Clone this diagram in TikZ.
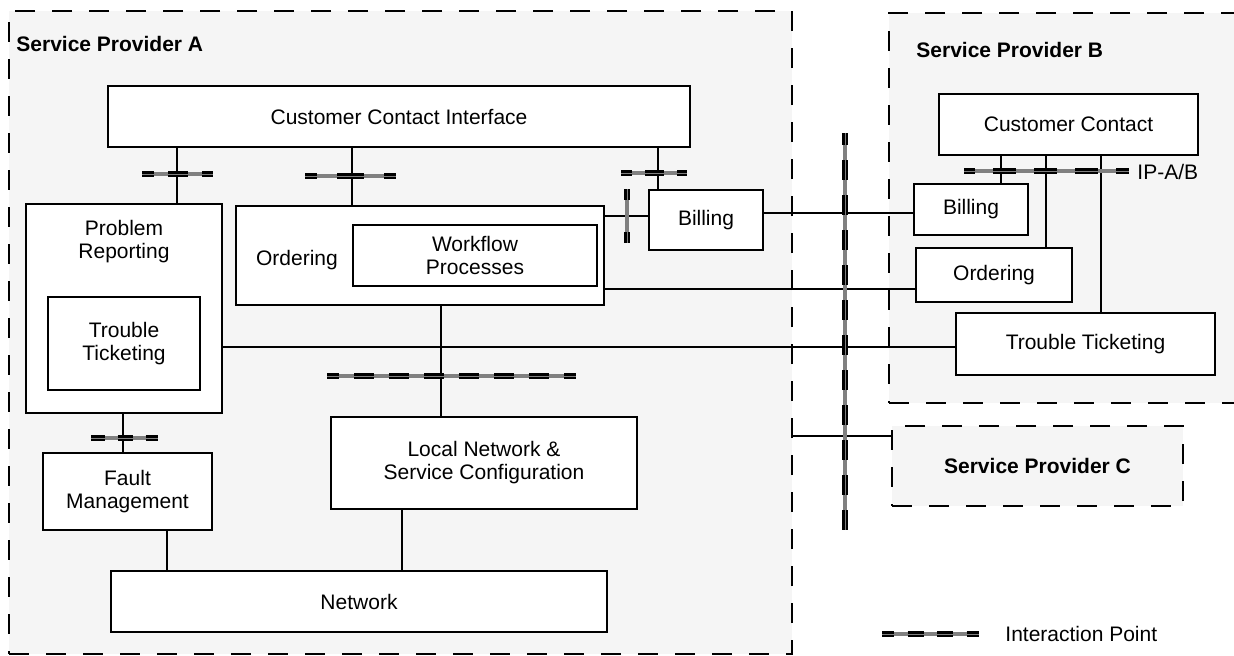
\documentclass[tikz,border=0pt]{standalone}
\usepackage{fontspec}
\setmainfont{Liberation Sans}
\definecolor{regionfill}{HTML}{F5F5F5}
\definecolor{ipgray}{HTML}{808080}

\begin{document}
\begin{tikzpicture}[
  x=0.5pt, y=-0.5pt,
  font=\fontsize{10.5pt}{11.5pt}\selectfont,
  region/.style={draw, fill=regionfill, line width=1pt, dash pattern=on 10pt off 8.5pt, inner sep=0pt, outer sep=0pt},
  box/.style={draw, fill=white, line width=0.75pt, inner sep=0pt, outer sep=0pt, align=center},
  txt/.style={inner sep=0pt, align=center},
  link/.style={line width=0.6pt},
  ip/.style={draw=ipgray, line width=1.8pt,
    postaction={draw=black, line width=3.2pt, #1},
    postaction={draw=ipgray, line width=0.5pt}},
  ip/.default={dash pattern=on 10pt off 7.5pt, dash phase=4pt},
  ptitle/.style={font=\fontsize{10.5pt}{11.5pt}\selectfont\bfseries, inner sep=0pt},
]
\useasboundingbox (0,0) rectangle (1234,655);

% --- provider regions ---
\node[region, minimum width=391.5pt, minimum height=321.5pt] (spA) at (400.5,332.5) {};
\node[region, minimum width=175.5pt, minimum height=195pt] (spB) at (1064.5,208) {};
\node[region, ptitle, minimum width=145.5pt, minimum height=40pt] (spC) at (1037.5,466) {Service Provider C};
\node[ptitle, anchor=west] (tA) at (16,44) {Service Provider A};
\node[ptitle, anchor=west] (tB) at (916,50) {Service Provider B};

% --- Service Provider A ---
\node[box, minimum width=291pt, minimum height=30.5pt] (cci) at (399,116.5) {Customer Contact Interface};
\node[box, minimum width=98pt, minimum height=104.5pt] (prob) at (124,308.5) {};
\node[txt] (probtxt) at (124,242) {Problem\\Reporting};
\node[box, minimum width=76pt, minimum height=46.5pt] (ttA) at (124,343.5) {Trouble\\Ticketing};
\node[box, minimum width=184pt, minimum height=49.5pt] (ordA) at (420,255.5) {};
\node[txt] (ordtxt) at (297,260) {Ordering};
\node[box, minimum width=122pt, minimum height=30.5pt] (wf) at (475,255.5) {Workflow\\Processes};
\node[box, minimum width=57pt, minimum height=30pt] (bilA) at (706,220) {Billing};
\node[box, minimum width=153pt, minimum height=46pt] (ln) at (484,463) {Local Network \&\\Service Configuration};
\node[box, minimum width=84.5pt, minimum height=38.5pt] (fm) at (127.5,491.5) {Fault\\Management};
\node[box, minimum width=248pt, minimum height=30.5pt] (net) at (359,601.5) {Network};

% --- Service Provider B ---
\node[box, minimum width=129.5pt, minimum height=30.5pt] (ccB) at (1068.5,124.5) {Customer Contact};
\node[box, minimum width=57pt, minimum height=25.5pt] (bilB) at (971,209.5) {Billing};
\node[box, minimum width=78pt, minimum height=27pt] (ordB) at (994,275) {Ordering};
\node[box, minimum width=129.5pt, minimum height=31pt] (ttB) at (1085.5,344) {Trouble Ticketing};

% --- links ---
\draw[link] (cci.south -| 177,0) -- (prob.north -| 177,0);
\draw[link] (cci.south -| 352,0) -- (ordA.north -| 352,0);
\draw[link] (cci.south -| 658,0) -- (bilA.north -| 658,0);
\draw[link] (ordA.east |- 0,216) -- (bilA.west |- 0,216);
\draw[link] (prob.south -| 123,0) -- (fm.north -| 123,0);
\draw[link] (ordA.south -| 441,0) -- (ln.north -| 441,0);
\draw[link] (fm.south -| 167,0) -- (net.north -| 167,0);
\draw[link] (ln.south -| 402,0) -- (net.north -| 402,0);

\draw[link] (bilA.east |- 0,213) -- (bilB.west |- 0,213);
\draw[link] (ordA.east |- 0,289) -- (ordB.west |- 0,289);
\draw[link] (prob.east |- 0,347) -- (ttB.west |- 0,347);
\draw[link] (spA.east |- 0,436) -- (spC.west |- 0,436);

\draw[link] (ccB.south -| 1001,0) -- (bilB.north -| 1001,0);
\draw[link] (ccB.south -| 1046,0) -- (ordB.north -| 1046,0);
\draw[link] (ccB.south -| 1101,0) -- (ttB.north -| 1101,0);

% --- interaction points ---
\draw[ip={dash pattern=on 10pt off 7pt, dash phase=4pt}] (142,174) -- (213,174);
\draw[ip={dash pattern=on 13.5pt off 10pt, dash phase=7.5pt}] (305,176) -- (396,176);
\draw[ip={dash pattern=on 9.5pt off 6.5pt, dash phase=4pt}] (621,173) -- (687,173);
\draw[ip={dash pattern=on 5.5pt off 16pt}] (627,189) -- (627,243);
\draw[ip] (327,376) -- (576,376);
\draw[ip={dash pattern=on 7.5pt off 6.5pt, dash phase=0.75pt}] (91,438) -- (158,438);
\draw[ip] (845,133) -- (845,530);
\draw[ip={dash pattern=on 11.5pt off 9pt, dash phase=6pt}] (964,171) -- (1129,171);
\node[txt, anchor=west] (ipab) at (1137,172) {IP-A/B};

% Legend
\draw[ip={dash pattern=on 8pt off 6.75pt, dash phase=2pt}] (882,634) -- (979,634);
\node[txt, anchor=west] (legend) at (1005,634) {Interaction Point};

\end{tikzpicture}
\end{document}
